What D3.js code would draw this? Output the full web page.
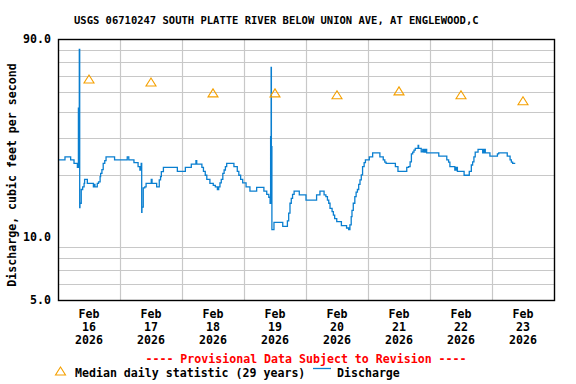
<!DOCTYPE html>
<html>
<head>
<meta charset="utf-8">
<script src="https://cdn.jsdelivr.net/npm/d3@7"></script>
<style>
  body { margin: 0; background: #fff; }
  text { font-family: "DejaVu Sans Mono", monospace; font-weight: bold; }
</style>
</head>
<body>
<div id="chart"></div>
<script>
// hours after 2026-02-16 00:00 and discharge (cfs)
var dischargeHours = [0, 2.7, 4.9, 6.2, 7.5, 7.6, 7.7, 7.9, 8.0, 8.1, 8.25, 8.4, 8.5, 9.0, 9.55, 10.1, 10.3, 11.35, 13.7, 14.0, 14.3,
  15.2, 15.7, 16.3, 16.5, 17.0, 17.5, 18.1, 18.6, 21.9, 26.8, 27.4, 29.4, 31.0, 31.7, 32.2, 32.4, 32.5, 33.0, 33.6, 34.1,
  36.1, 36.4, 38.2, 39.2, 39.7, 40.0, 40.8, 46.2, 49.3, 51.6, 53.4, 53.7, 55.7, 56.3, 57.0, 57.6, 58.8, 60.1, 60.9, 61.7,
  62.2, 62.7, 63.2, 63.8, 64.3, 64.8, 65.3, 68.1, 69.4, 70.0, 70.7, 71.5, 72.8, 74.3, 76.9, 79.7, 80.8, 81.6, 82.1, 82.3,
  82.5, 82.6, 82.8, 83.6, 87.0, 88.8, 89.3, 89.8, 90.3, 90.8, 91.4, 93.4, 96.0, 100.1, 101.4, 103.0, 103.7, 104.3, 104.8,
  105.3, 106.1, 106.6, 107.1, 107.9, 109.7, 111.7, 112.5, 113.0, 113.5, 113.8, 114.3, 114.9, 115.4, 115.9, 116.4, 116.9,
  117.4, 117.9, 118.5, 119.0, 120.5, 121.8, 124.6, 125.9, 126.5, 127.0, 130.6, 131.6, 135.0, 135.7, 136.3, 136.8, 137.3,
  137.8, 138.3, 139.4, 139.6, 140.6, 141.2, 141.7, 142.2, 142.7, 147.4, 150.5, 151.2, 151.7, 153.6, 154.1, 154.6, 157.2,
  159.2, 160.0, 160.5, 161.0, 161.5, 162.6, 164.4, 164.9, 165.4, 167.2, 170.1, 170.6, 173.9, 175.0, 175.5, 176.0, 177.0];
var dischargeCfs = [23.6, 24.4, 23.6, 22.7, 21.7, 22.7, 21.7, 41.9, 22.0, 40.0, 80.3, 13.9, 14.6, 17.0, 17.5, 18.2, 19.0, 18.2, 17.5, 18.0, 17.5,
  18.2, 18.5, 19.6, 20.3, 21.2, 22.7, 23.4, 24.4, 23.6, 24.4, 23.6, 22.9, 21.9, 21.1, 22.7, 13.2, 14.0, 17.3, 17.5, 18.2,
  19.0, 18.2, 17.5, 18.9, 19.6, 20.7, 21.7, 20.8, 21.7, 22.5, 23.4, 22.5, 21.7, 20.8, 19.9, 19.0, 18.2, 17.8, 17.5, 17.0,
  17.5, 18.3, 19.0, 20.3, 21.1, 21.9, 22.7, 21.9, 20.8, 19.9, 19.0, 18.3, 17.5, 16.7, 17.4, 16.7, 16.1, 15.6, 14.6, 30.5,
  65.8, 27.3, 10.9, 11.8, 11.3, 12.0, 13.1, 14.6, 15.4, 16.1, 16.7, 16.0, 15.1, 16.0, 16.7, 16.0, 15.7, 15.1, 14.6,
  13.8, 13.3, 12.8, 12.3, 11.9, 11.4, 11.1, 10.9, 11.5, 12.6, 13.5, 14.6, 15.7, 16.5, 17.0, 18.0, 18.9,
  20.0, 21.9, 22.9, 23.6, 24.4, 25.5, 24.4, 23.6, 23.0, 22.7, 21.9, 20.8, 21.7, 21.9, 23.1, 25.2, 25.7,
  26.3, 26.8, 27.7, 26.8, 25.8, 26.5, 25.7, 26.5, 25.5, 24.6, 23.6, 23.0, 21.9, 21.1, 21.7, 20.8, 19.9,
  20.8, 22.3, 23.1, 24.4, 25.7, 26.5, 25.5, 26.5, 25.5, 24.6, 25.2, 25.5, 24.6, 23.6, 23.0, 22.7, 22.7];

var medianDays = [16, 17, 18, 19, 20, 21, 22, 23];
var medianCfs = [57.5, 55.6, 49.3, 49.3, 48.3, 50.4, 48.3, 45.2];

var yTickValues = [5, 10, 90];
var yGridValues = [6, 7, 8, 9, 20, 30, 40, 50, 60, 70, 80];

var titleText = "USGS 06710247 SOUTH PLATTE RIVER BELOW UNION AVE, AT ENGLEWOOD,C";
var yLabelText = "Discharge, cubic feet per second";

(function() {
  var width = 576,
    height = 384,
    plotLeft = 58, plotRight = 554, plotTop = 39, plotBottom = 300,
    lineColor = "#0a7fd0",
    medianColor = "#f5a000",
    gridColor = "#c8c8c8";

  var start = new Date(2026, 1, 16, 0, 0);
  function hoursToDate(h) { return new Date(start.getTime() + h * 3600e3); }

  var svg = d3.select("#chart").append("svg")
    .attr("width", width)
    .attr("height", height);

  var x = d3.scaleTime()
    .domain([start, new Date(2026, 1, 24, 0, 0)])
    .range([plotLeft, plotRight]);

  var y = d3.scaleLog()
    .domain([5, 90])
    .range([plotBottom, plotTop]);

  // grid
  var grid = svg.append("g").attr("stroke", gridColor).attr("stroke-width", 1.2);
  grid.selectAll(".hg")
    .data(yGridValues)
    .enter().append("line")
    .attr("x1", plotLeft).attr("x2", plotRight)
    .attr("y1", function(d) { return Math.round(y(d)) + 0.5; })
    .attr("y2", function(d) { return Math.round(y(d)) + 0.5; });

  var dayLines = x.ticks(d3.timeDay.every(1)).filter(function(d) {
    return d > x.domain()[0] && d < x.domain()[1];
  });
  grid.selectAll(".vg")
    .data(dayLines)
    .enter().append("line")
    .attr("y1", plotTop).attr("y2", plotBottom)
    .attr("x1", function(d) { return Math.round(x(d)) + 0.5; })
    .attr("x2", function(d) { return Math.round(x(d)) + 0.5; });

  // discharge line
  var pts = dischargeHours.map(function(h, i) { return [hoursToDate(h), dischargeCfs[i]]; });
  var line = d3.line()
    .x(function(d) { return x(d[0]); })
    .y(function(d) { return y(d[1]); })
    .curve(d3.curveStepAfter);

  svg.append("path")
    .datum(pts)
    .attr("d", line)
    .attr("fill", "none")
    .attr("stroke", lineColor)
    .attr("stroke-width", 1.3);

  // median triangles
  var tri = "M0,-4.5L5,3.5L-5,3.5Z";
  svg.selectAll(".median")
    .data(medianDays)
    .enter().append("path")
    .attr("d", tri)
    .attr("transform", function(d, i) {
      return "translate(" + x(new Date(2026, 1, d, 12)) + "," + y(medianCfs[i]) + ")";
    })
    .attr("fill", "none")
    .attr("stroke", medianColor)
    .attr("stroke-width", 1.1);

  // frame
  svg.append("rect")
    .attr("x", plotLeft + 0.5).attr("y", plotTop + 0.5)
    .attr("width", plotRight - plotLeft).attr("height", plotBottom - plotTop)
    .attr("fill", "none")
    .attr("stroke", "#000")
    .attr("stroke-width", 1.4);

  // y tick labels
  svg.selectAll(".ylab")
    .data(yTickValues)
    .enter().append("text")
    .attr("x", 51)
    .attr("y", function(d) { return y(d) + 4; })
    .attr("text-anchor", "end")
    .attr("font-size", "11.6px")
    .text(function(d) { return d3.format(".1f")(d); });

  // x labels
  var xl = svg.selectAll(".xlab")
    .data(medianDays)
    .enter().append("text")
    .attr("text-anchor", "middle")
    .attr("font-size", "11.6px")
    .attr("transform", function(d) { return "translate(" + x(new Date(2026, 1, d, 12)) + ",318)"; });
  xl.append("tspan").attr("x", 0).attr("y", 0).text("Feb");
  xl.append("tspan").attr("x", 0).attr("y", 13).text(function(d) { return d; });
  xl.append("tspan").attr("x", 0).attr("y", 26).text("2026");

  // title
  svg.append("text")
    .attr("x", 74).attr("y", 24)
    .attr("font-size", "10.5px")
    .text(titleText);

  // y axis title
  svg.append("text")
    .attr("transform", "translate(16,175) rotate(-90)")
    .attr("text-anchor", "middle")
    .attr("font-size", "11.6px")
    .text(yLabelText);

  // provisional note
  svg.append("text")
    .attr("x", (plotLeft + plotRight) / 2).attr("y", 363)
    .attr("text-anchor", "middle")
    .attr("font-size", "11.6px")
    .attr("fill", "#ff0000")
    .text("---- Provisional Data Subject to Revision ----");

  // legend
  svg.append("path")
    .attr("d", tri)
    .attr("transform", "translate(60.5,371.5)")
    .attr("fill", "none")
    .attr("stroke", medianColor)
    .attr("stroke-width", 1.1);
  svg.append("text")
    .attr("x", 75).attr("y", 377)
    .attr("font-size", "11.6px")
    .text("Median daily statistic (29 years)");
  svg.append("line")
    .attr("x1", 313).attr("x2", 331)
    .attr("y1", 368.5).attr("y2", 368.5)
    .attr("stroke", lineColor)
    .attr("stroke-width", 1.3);
  svg.append("text")
    .attr("x", 337).attr("y", 377)
    .attr("font-size", "11.6px")
    .text("Discharge");
})();
</script>
</body>
</html>
